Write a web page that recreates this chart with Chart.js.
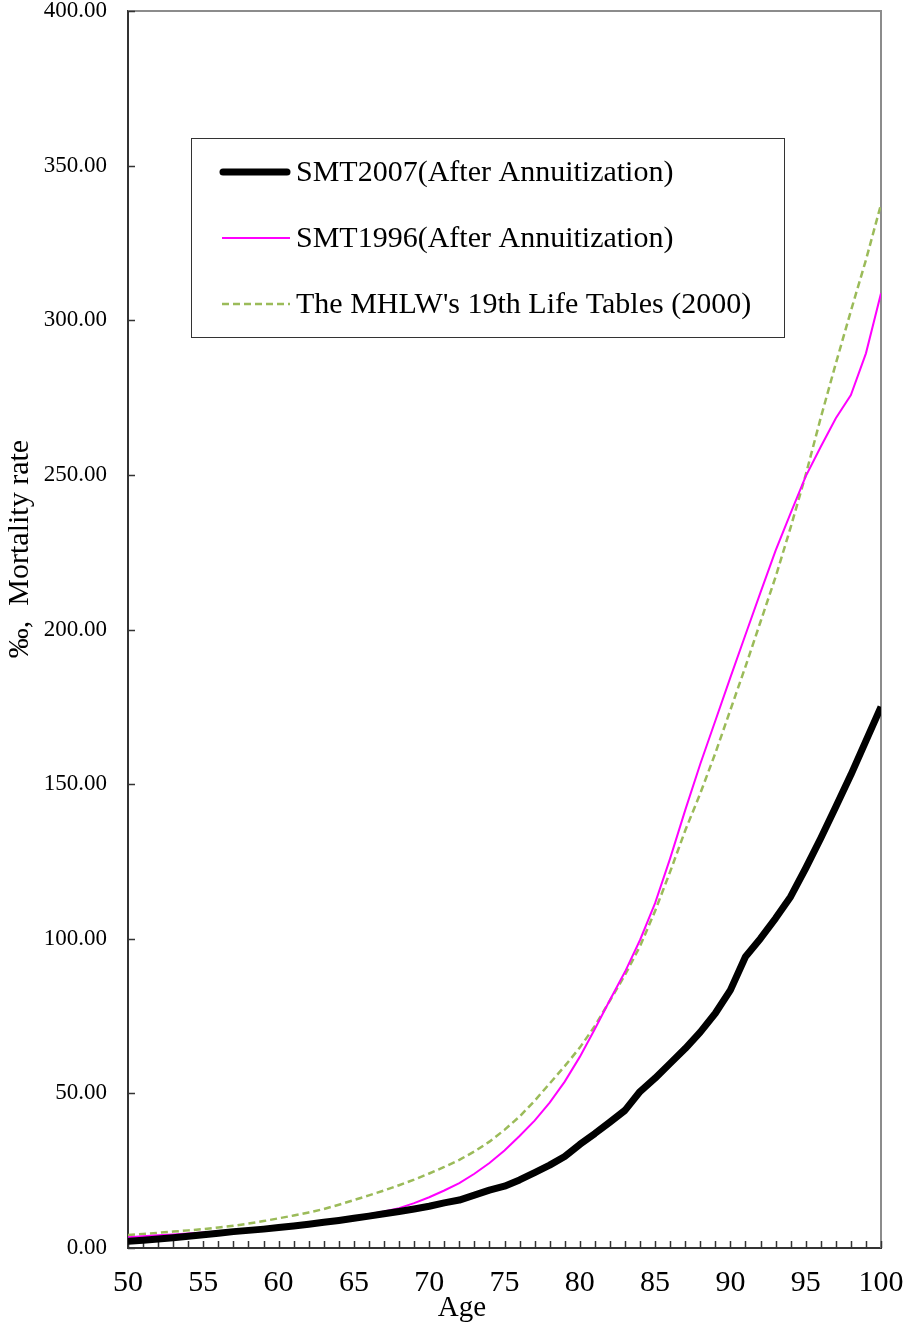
<!DOCTYPE html>
<html>
<head>
<meta charset="utf-8">
<script src="https://cdn.jsdelivr.net/npm/chart.js@4.4.1/dist/chart.umd.min.js"></script>
<style>
  html, body { margin: 0; padding: 0; background: #fff; }
  #wrap { width: 908px; height: 1326px; position: relative; }
</style>
</head>
<body>
<div id="wrap"><canvas id="mortality"></canvas></div>
<script>
const AGES = [];
for (let a = 50; a <= 100; a++) AGES.push(a);

// per-mille mortality rates, ages 50..100
const SMT2007 = [
  2.2, 2.5, 2.9, 3.3, 3.8, 4.3, 4.8, 5.3, 5.7, 6.1,
  6.6, 7.1, 7.7, 8.3, 8.9, 9.6, 10.3, 11.1, 11.8, 12.6,
  13.5, 14.6, 15.5, 17.1, 18.7, 20.0, 22.0, 24.4, 26.8, 29.6,
  33.5, 37.0, 40.7, 44.5, 50.6, 54.9, 59.7, 64.5, 69.8, 75.9,
  83.4, 94.2, 100.1, 106.6, 113.6, 122.8, 132.5, 142.7, 153.0, 164.0,
  175.0
];
const SMT1996 = [
  3.5, 3.8, 4.1, 4.4, 4.7, 5.0, 5.3, 5.6, 6.0, 6.4,
  6.8, 7.2, 7.7, 8.3, 9.1, 10.0, 10.9, 11.8, 12.9, 14.5,
  16.4, 18.6, 21.0, 24.0, 27.5, 31.5, 36.2, 41.2, 47.0, 53.8,
  61.8, 70.8, 80.2, 89.3, 99.6, 111.5, 126.0, 141.6, 156.5, 170.5,
  184.5, 198.3, 212.0, 225.5, 237.6, 249.5, 259.1, 268.3, 275.8, 289.3,
  308.7
];
const MHLW19 = [
  4.2, 4.5, 4.9, 5.3, 5.7, 6.1, 6.6, 7.2, 7.9, 8.7,
  9.6, 10.5, 11.5, 12.6, 14.0, 15.5, 17.0, 18.6, 20.3, 22.1,
  24.1, 26.2, 28.5, 31.2, 34.4, 38.2, 42.5, 47.6, 53.2, 58.8,
  64.8, 71.8, 80.0, 88.3, 97.6, 109.0, 121.7, 135.0, 147.0, 160.0,
  174.0, 188.0, 202.5, 217.0, 233.0, 250.0, 268.5, 286.0, 303.0, 319.5,
  337.5
];
const SERIES_LABELS = [
  "SMT2007(After Annuitization)",
  "SMT1996(After Annuitization)",
  "The MHLW's 19th Life Tables (2000)"
];
const Y_TITLE = "\u2030,  Mortality rate";
const X_TITLE = "Age";

const SERIF = "'Liberation Serif', 'Times New Roman', serif";

const toPoints = (vals) => vals.map((v, i) => ({ x: AGES[i], y: v }));

// fixed axis band size; drop the label overflow padding so the plot box stays put
const fixSize = (prop, size) => (scale) => {
  scale[prop] = size;
  scale.paddingTop = scale.paddingBottom = scale.paddingLeft = scale.paddingRight = 0;
};

// inward tick marks, top/right frame, axis titles and boxed legend
const framePlugin = {
  id: "frame",
  beforeDatasetsDraw(chart) {
    const { ctx, chartArea: ca, scales } = chart;
    ctx.save();
    ctx.strokeStyle = "#8c8c8c";
    ctx.lineWidth = 2;
    ctx.beginPath();
    ctx.moveTo(ca.left, ca.top);
    ctx.lineTo(ca.right, ca.top);
    ctx.lineTo(ca.right, ca.bottom);
    ctx.stroke();
    ctx.strokeStyle = "#333";
    ctx.lineWidth = 1.5;
    ctx.beginPath();
    scales.y.ticks.forEach((t) => {
      const py = Math.round(scales.y.getPixelForValue(t.value)) + 0.5;
      ctx.moveTo(ca.left, py);
      ctx.lineTo(ca.left + 7, py);
    });
    scales.x.ticks.forEach((t) => {
      const px = Math.round(scales.x.getPixelForValue(t.value)) + 0.5;
      ctx.moveTo(px, ca.bottom);
      ctx.lineTo(px, ca.bottom - 7);
    });
    ctx.stroke();
    ctx.restore();
  },
  afterDraw(chart) {
    const { ctx } = chart;
    ctx.save();
    ctx.fillStyle = "#000";
    ctx.textAlign = "center";
    ctx.textBaseline = "middle";
    ctx.font = "30px " + SERIF;
    ctx.translate(20, 549);
    ctx.rotate(-Math.PI / 2);
    ctx.fillText(Y_TITLE, 0, 0);
    ctx.restore();

    ctx.save();
    ctx.fillStyle = "#000";
    ctx.textAlign = "center";
    ctx.textBaseline = "alphabetic";
    ctx.font = "29px " + SERIF;
    ctx.fillText(X_TITLE, 462, 1316);
    ctx.restore();

    // legend box
    ctx.save();
    ctx.fillStyle = "#fff";
    ctx.fillRect(191, 138, 593, 199);
    ctx.strokeStyle = "#333";
    ctx.lineWidth = 1;
    ctx.strokeRect(191.5, 138.5, 593, 199);
    const rows = [172, 238, 304];
    chart.data.datasets.forEach((ds, i) => {
      const y = rows[i];
      ctx.save();
      ctx.strokeStyle = ds.borderColor;
      ctx.lineWidth = ds.borderWidth;
      ctx.lineCap = i === 0 ? "round" : "butt";
      ctx.setLineDash(ds.borderDash || []);
      ctx.beginPath();
      ctx.moveTo(i === 0 ? 223 : 222, y);
      ctx.lineTo(i === 0 ? 287 : 290, y);
      ctx.stroke();
      ctx.restore();
      ctx.fillStyle = "#000";
      ctx.font = "30px " + SERIF;
      ctx.textAlign = "left";
      ctx.textBaseline = "middle";
      ctx.fillText(ds.label, 296, y + 1);
    });
    ctx.restore();
  }
};

new Chart(document.getElementById("mortality"), {
  type: "line",
  data: {
    datasets: [
      { label: SERIES_LABELS[0], data: toPoints(SMT2007), borderColor: "#000000", borderWidth: 7, pointRadius: 0, tension: 0, borderJoinStyle: "round" },
      { label: SERIES_LABELS[1], data: toPoints(SMT1996), borderColor: "#ff00ff", borderWidth: 2, pointRadius: 0, tension: 0 },
      { label: SERIES_LABELS[2], data: toPoints(MHLW19), borderColor: "#9bbb59", borderWidth: 2.5, borderDash: [7, 4], pointRadius: 0, tension: 0 }
    ]
  },
  options: {
    responsive: true,
    maintainAspectRatio: false,
    animation: false,
    layout: { padding: { top: 11, right: 27, left: 0, bottom: 0 } },
    plugins: { legend: { display: false }, tooltip: { enabled: false } },
    scales: {
      x: {
        type: "linear",
        min: 50,
        max: 100,
        grid: { display: false, drawTicks: false },
        border: { display: true, color: "#333", width: 2 },
        ticks: {
          stepSize: 1,
          autoSkip: false,
          maxRotation: 0,
          minRotation: 0,
          padding: 20,
          color: "#000",
          font: { family: SERIF, size: 30, lineHeight: 1 },
          callback: (v) => (v % 5 === 0 ? String(v) : "")
        },
        afterFit: fixSize("height", 78)
      },
      y: {
        min: 0,
        max: 400,
        grid: { display: false, drawTicks: false },
        border: { display: true, color: "#333", width: 2 },
        ticks: {
          stepSize: 50,
          padding: 21,
          color: "#000",
          font: { family: SERIF, size: 23, lineHeight: 0.9 },
          callback: (v) => v.toFixed(2)
        },
        afterFit: fixSize("width", 128)
      }
    }
  },
  plugins: [framePlugin]
});
</script>
</body>
</html>
